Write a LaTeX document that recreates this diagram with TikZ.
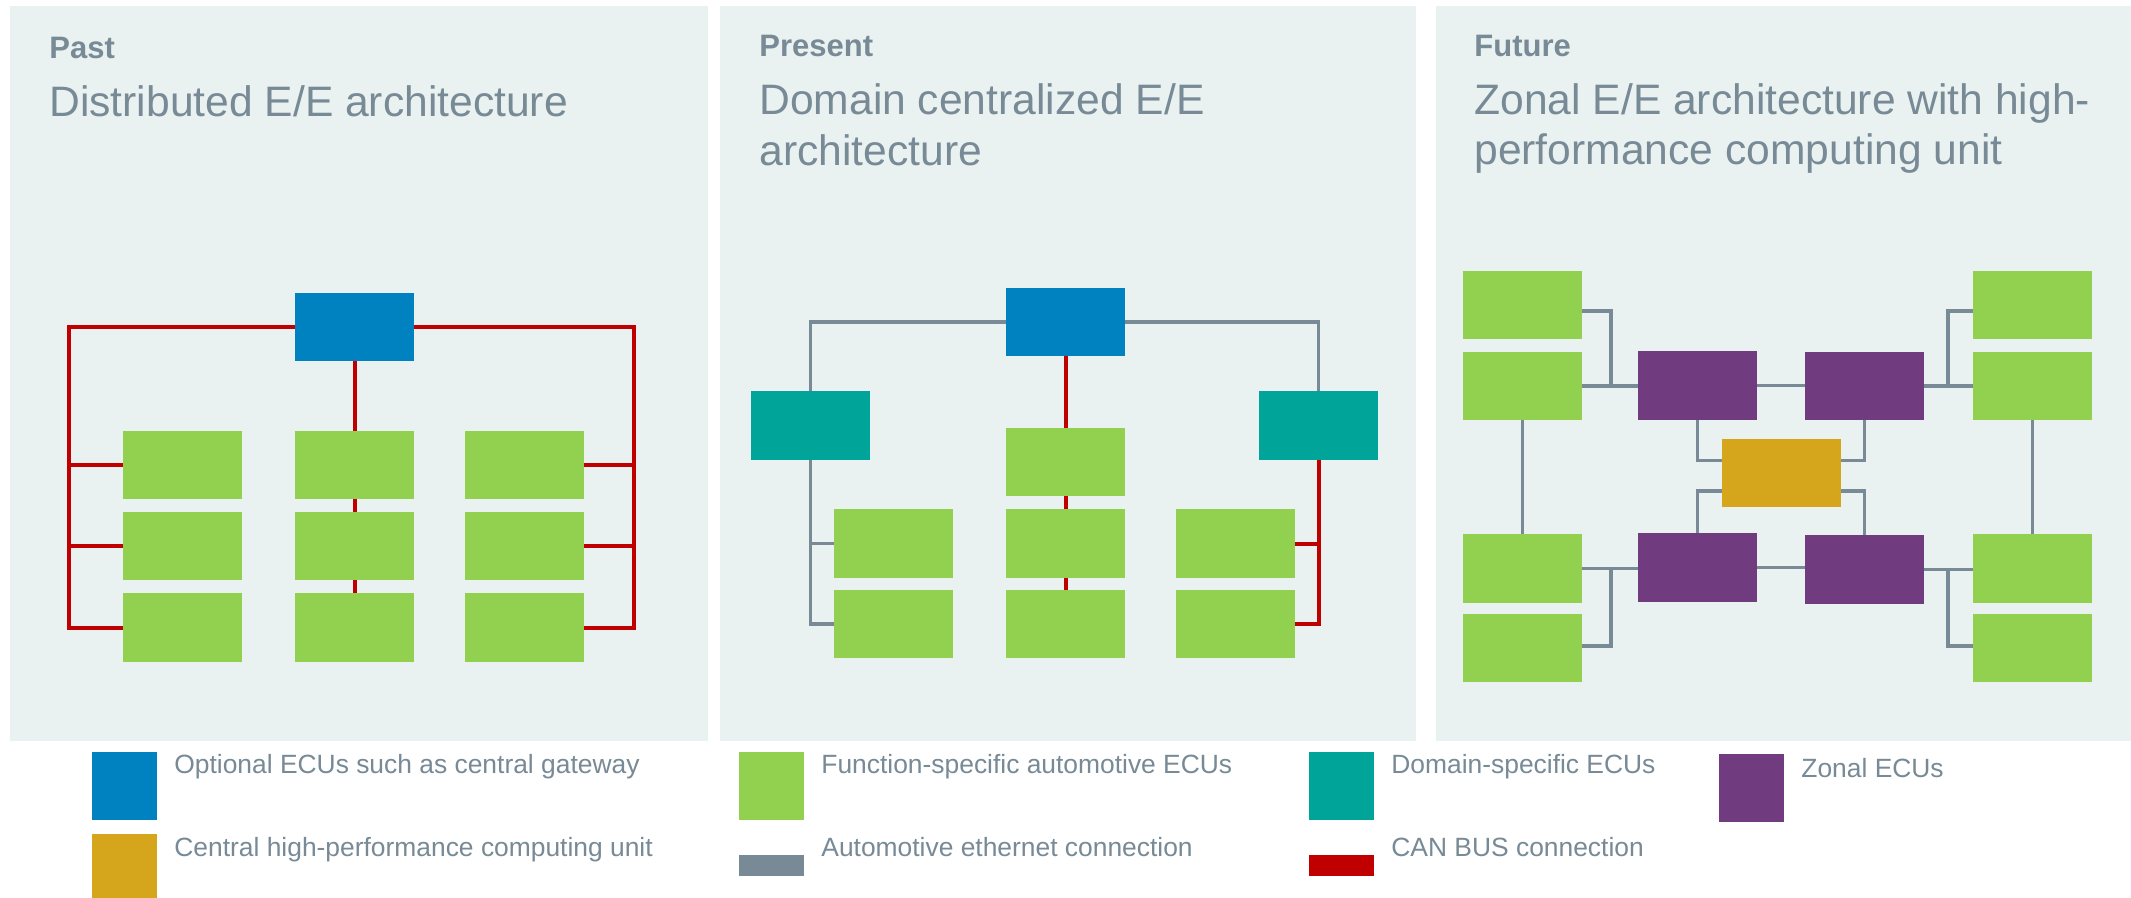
\documentclass[tikz,border=0pt]{standalone}
\usepackage{fontspec}
\setmainfont{Liberation Sans}
\usetikzlibrary{calc}
\pgfdeclarelayer{panels}
\pgfdeclarelayer{wires}
\pgfsetlayers{panels,wires,main}
\definecolor{panelbg}{HTML}{EAF2F1}
\definecolor{txtgray}{HTML}{778A96}
\definecolor{ethgray}{HTML}{778A96}
\definecolor{canred}{HTML}{C00000}
\definecolor{ecublue}{HTML}{0082C0}
\definecolor{ecugreen}{HTML}{92D050}
\definecolor{ecuteal}{HTML}{00A499}
\definecolor{ecupurple}{HTML}{713B80}
\definecolor{ecugold}{HTML}{D5A51B}
\begin{document}
\begin{tikzpicture}[x=0.5pt,y=-0.5pt,
  ecu/.style={minimum width=59.5pt,minimum height=34.2pt,inner sep=0pt,outer sep=0pt,draw=none},
  gw/.style={ecu,fill=ecublue},
  fn/.style={ecu,fill=ecugreen},
  dom/.style={ecu,fill=ecuteal},
  zon/.style={ecu,fill=ecupurple},
  hpc/.style={ecu,fill=ecugold},
  legsq/.style={minimum width=32.5pt,minimum height=34pt,inner sep=0pt,outer sep=0pt},
  legln/.style={minimum width=32.5pt,minimum height=10.5pt,inner sep=0pt,outer sep=0pt},
  can/.style={draw=canred,line width=2pt},
  eth/.style={draw=ethgray,line width=1.75pt},
  era/.style={anchor=base west,inner sep=0pt,text=txtgray,font=\bfseries\fontsize{15.5pt}{18pt}\selectfont},
  ttl/.style={anchor=base west,inner sep=0pt,text=txtgray,align=left,font=\fontsize{21.3pt}{25.25pt}\selectfont},
  legtxt/.style={anchor=base west,inner sep=0pt,text=txtgray,font=\fontsize{13.2pt}{15pt}\selectfont}]
\useasboundingbox (0,0) rectangle (2131,898);
\begin{pgfonlayer}{panels}
\fill[white] (0,0) rectangle (2131,898);
\fill[panelbg] (10,6) rectangle (708,741);
\fill[panelbg] (720,6) rectangle (1416,741);
\fill[panelbg] (1436,6) rectangle (2131,741);
\end{pgfonlayer}

% ---------- Past ----------
\node[era] (past) at (49,59) {Past};
\node[ttl] (t1) at (49,116.6) {Distributed E/E architecture};
\node[gw] (b1) at (354.5,327) {};
\node[fn] (a11) at (182.5,465) {};
\node[fn] (a12) at (182.5,546) {};
\node[fn] (a13) at (182.5,627.5) {};
\node[fn] (a21) at (354.5,465) {};
\node[fn] (a22) at (354.5,546) {};
\node[fn] (a23) at (354.5,627.5) {};
\node[fn] (a31) at (524.5,465) {};
\node[fn] (a32) at (524.5,546) {};
\node[fn] (a33) at (524.5,627.5) {};
\coordinate (pl) at (69,0);
\coordinate (pr) at (634,0);
\begin{pgfonlayer}{wires}
\draw[can] (b1.west) -- (b1.west -| pl) |- (a13.west);
\draw[can] (b1.east) -- (b1.east -| pr) |- (a33.east);
\draw[can] (a11.west) -- (a11.west -| pl);
\draw[can] (a12.west) -- (a12.west -| pl);
\draw[can] (a31.east) -- (a31.east -| pr);
\draw[can] (a32.east) -- (a32.east -| pr);
\draw[can] (b1.south) -- (a23.north);
\end{pgfonlayer}

% ---------- Present ----------
\node[era] (present) at (759,56.6) {Present};
\node[ttl] (t2) at (759,165.2) {Domain centralized E/E\\architecture};
\node[gw] (b2) at (1065.5,322) {};
\node[dom] (dl) at (810.5,425.5) {};
\node[dom] (dr) at (1318.5,425.5) {};
\node[fn] (c1) at (1065.5,462) {};
\node[fn] (c2) at (1065.5,543.5) {};
\node[fn] (c3) at (1065.5,624) {};
\node[fn] (l1) at (893.5,543.5) {};
\node[fn] (l2) at (893.5,624) {};
\node[fn] (r1) at (1235.5,543.5) {};
\node[fn] (r2) at (1235.5,624) {};
\begin{pgfonlayer}{wires}
\draw[eth] (b2.west) -| (dl.north);
\draw[eth] (b2.east) -| (dr.north);
\draw[eth] (dl.south) |- (l2.west);
\draw[eth] (l1.west) -- (l1.west -| dl.south);
\draw[can] (b2.south) -- (c3.north);
\draw[can] (dr.south) |- (r2.east);
\draw[can] (r1.east) -- (r1.east -| dr.south);
\end{pgfonlayer}

% ---------- Future ----------
\node[era] (future) at (1474,56.6) {Future};
\node[ttl] (t3) at (1474,165) {Zonal E/E architecture with high-\\performance computing unit};
\node[fn] (fl1) at (1522.5,305) {};
\node[fn] (fl2) at (1522.5,386) {};
\node[fn] (fl3) at (1522.5,568.5) {};
\node[fn] (fl4) at (1522.5,648) {};
\node[fn] (fr1) at (2032.5,305) {};
\node[fn] (fr2) at (2032.5,386) {};
\node[fn] (fr3) at (2032.5,568.5) {};
\node[fn] (fr4) at (2032.5,648) {};
\node[zon] (ztl) at (1697.5,385.5) {};
\node[zon] (ztr) at (1864.5,386) {};
\node[zon] (zbl) at (1697.5,567.5) {};
\node[zon] (zbr) at (1864.5,569.5) {};
\node[hpc] (hpc) at (1781.5,473) {};
\coordinate (jl) at (1611,0);
\coordinate (jr) at (1948,0);
\begin{pgfonlayer}{wires}
\draw[eth] (fl2.east) -- (fl2.east -| ztl.west);
\draw[eth] ($(fl1.east)+(0,6)$) -| (jl |- fl2.east);
\draw[eth] (ztl.east) -- (ztl.east -| ztr.west);
\draw[eth] (ztr.east) -- (ztr.east -| fr2.west);
\draw[eth] ($(fr1.west)+(0,6)$) -| (jr |- fr2.west);
\draw[eth] (fl2.south) -- (fl3.north);
\draw[eth] (fr2.south) -- (fr3.north);
\draw[eth] (ztl.south) |- ($(hpc.west)+(0,-12.5)$);
\draw[eth] (ztr.south) |- ($(hpc.east)+(0,-12.5)$);
\draw[eth] ($(hpc.west)+(0,18)$) -| (zbl.north);
\draw[eth] ($(hpc.east)+(0,18)$) -| (zbr.north);
\draw[eth] (fl3.east) -- (fl3.east -| zbl.west);
\draw[eth] ($(fl4.east)+(0,-2)$) -| (jl |- fl3.east);
\draw[eth] (zbl.east) -- (zbl.east -| zbr.west);
\draw[eth] (zbr.east) -- (zbr.east -| fr3.west);
\draw[eth] ($(fr4.west)+(0,-2)$) -| (jr |- fr3.west);
\end{pgfonlayer}

% ---------- Legend ----------
\node[legsq,fill=ecublue] (k1) at (124.5,786) {};
\node[legtxt] (k1t) at (174,773) {Optional ECUs such as central gateway};
\node[legsq,fill=ecugold,minimum height=32pt] (k2) at (124.5,866) {};
\node[legtxt] (k2t) at (174,856) {Central high-performance computing unit};
\node[legsq,fill=ecugreen] (k3) at (771.5,786) {};
\node[legtxt] (k3t) at (821,773) {Function-specific automotive ECUs};
\node[legln,fill=ethgray] (k4) at (771.5,865.5) {};
\node[legtxt] (k4t) at (821,856) {Automotive ethernet connection};
\node[legsq,fill=ecuteal] (k5) at (1341.5,786) {};
\node[legtxt] (k5t) at (1391,773) {Domain-specific ECUs};
\node[legln,fill=canred] (k6) at (1341.5,865.5) {};
\node[legtxt] (k6t) at (1391,856) {CAN BUS connection};
\node[legsq,fill=ecupurple] (k7) at (1751.5,788) {};
\node[legtxt] (k7t) at (1801,777) {Zonal ECUs};
\end{tikzpicture}
\end{document}
